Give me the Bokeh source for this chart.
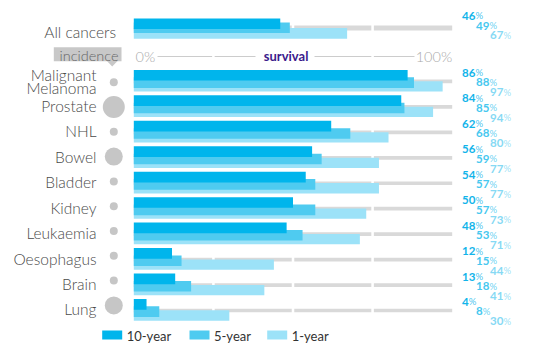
from bokeh.plotting import figure
from bokeh.models import Range1d, ColumnDataSource
from bokeh.core.properties import value
from bokeh.embed import file_html
from bokeh.resources import INLINE

# ---------------- data ----------------
categories = ["Malignant Melanoma", "Prostate", "NHL", "Bowel", "Bladder",
              "Kidney", "Leukaemia", "Oesophagus", "Brain", "Lung"]
ten_year = [86, 84, 62, 56, 54, 50, 48, 12, 13, 4]
five_year = [88, 85, 68, 59, 57, 57, 53, 15, 18, 8]
one_year = [97, 94, 80, 77, 77, 73, 71, 44, 41, 30]
incidence_size = [8, 22, 8, 18, 8, 8, 8, 8, 8, 18]
all_label = "All cancers"
all_values = [46, 49, 67]          # 10-year, 5-year, 1-year
axis_labels = ["0%", "survival", "100%"]
legend_labels = ["10-year", "5-year", "1-year"]

# ---------------- styling ----------------
C10, C5, C1 = "#00b5ec", "#4fcbf0", "#9ce2f8"
LC10, LC5, LC1 = "#12b4ea", "#47c8ef", "#86d9f4"
TRACK = "#d9d9d9"
FONT = value("Lato")
LIGHT = value("'Lato Light', Lato")

W, H = 524, 347
OX, OY = 0, 0
X0, PX = 133.3, 3.184


def px(xp):
    return (xp - X0) / PX


p = figure(width=W, height=H, x_range=Range1d(px(OX), px(OX + W)),
           y_range=Range1d(OY + H, OY), output_backend="svg",
           toolbar_location=None, min_border=0)
p.axis.visible = False
p.grid.visible = False
p.outline_line_color = None
p.background_fill_color = "white"

n = len(categories)
T = [69.4 + 25.45 * i for i in range(n)]
TA = 18.0

# ---------------- tracks ----------------
tl, tr, tt, tb = [], [], [], []
for t in T:
    for k in range(4):
        tl.append(0 if k == 0 else 25 * k + 0.4)
        tr.append(100 if k == 3 else 25 * (k + 1) - 0.4)
        tt.append(t + 9.7)
        tb.append(t + 13.4)
for k in range(4):
    tl.append(0 if k == 0 else 25 * k + 0.4)
    tr.append(100 if k == 3 else 25 * (k + 1) - 0.4)
    tt.append(TA + 7.0)
    tb.append(TA + 12.0)
p.quad(left=tl, right=tr, top=tt, bottom=tb, fill_color=TRACK, line_color=None)

# ---------------- bars ----------------
src = ColumnDataSource(dict(
    ten=ten_year, five=five_year, one=one_year,
    t10=[t for t in T], b10=[t + 10.7 for t in T],
    t5=[t + 7.4 for t in T], b5=[t + 18.0 for t in T],
    t1=[t + 11.4 for t in T], b1=[t + 21.7 for t in T],
))
p.quad(left=0, right="one", top="t1", bottom="b1", source=src, fill_color=C1, line_color=None)
p.quad(left=0, right="five", top="t5", bottom="b5", source=src, fill_color=C5, line_color=None)
p.quad(left=0, right="ten", top="t10", bottom="b10", source=src, fill_color=C10, line_color=None)

# all cancers bars
p.quad(left=[0], right=[all_values[2]], top=[TA + 9.5], bottom=[TA + 20.3], fill_color=C1, line_color=None)
p.quad(left=[0], right=[all_values[1]], top=[TA + 4.0], bottom=[TA + 14.5], fill_color=C5, line_color=None)
p.quad(left=[0], right=[all_values[0]], top=[TA], bottom=[TA + 10.5], fill_color=C10, line_color=None)

# ---------------- category labels ----------------
lab_x, lab_y, lab_t = [], [], []
for i, c in enumerate(categories):
    if c == "Malignant Melanoma":
        lab_x += [px(96), px(96)]
        lab_y += [T[i] + 5.4, T[i] + 17.6]
        lab_t += ["Malignant", "Melanoma"]
    else:
        lab_x.append(px(96))
        lab_y.append(T[i] + 10.5)
        lab_t.append(c)
p.text(x=lab_x, y=lab_y, text=lab_t, text_font=LIGHT, text_font_size=value("15.5px"),
       text_align="right", text_baseline="middle", text_color="#4a4a4a")
p.text(x=[px(115.5)], y=[31], text=[all_label], text_font=LIGHT,
       text_font_size=value("15.5px"), text_align="right", text_baseline="middle",
       text_color="#4a4a4a")

# ---------------- incidence circles ----------------
p.scatter(x=[px(113.3)] * n, y=[81.7 + 24.8 * i for i in range(n)], size=incidence_size,
          fill_color="#c6c6c6", line_color=None)

# incidence tag
p.quad(left=[px(53.3)], right=[px(121)], top=[46.7], bottom=[60.7],
       fill_color="#c8c8c8", line_color=None)
p.patch(x=[px(106.4), px(117.0), px(111.7)], y=[60.6, 60.6, 66.0],
        fill_color="#c8c8c8", line_color=None)
p.text(x=[px(88.5)], y=[54.5], text=["incidence"], text_font=LIGHT,
       text_font_size=value("14.5px"), text_align="center", text_baseline="middle",
       text_color="#666666")

# ---------------- survival axis row ----------------
p.segment(x0=[px(157), 25.4, px(314), 75.4], x1=[24.6, px(255), 74.6, px(414)],
          y0=[56] * 4, y1=[56] * 4, line_color="#cccccc", line_width=1)
p.text(x=[px(135)], y=[55.5], text=[axis_labels[0]], text_font=LIGHT,
       text_font_size=value("14.5px"), text_align="left", text_baseline="middle",
       text_color="#aaaaaa")
p.text(x=[px(285.6)], y=[55.5], text=[axis_labels[1]], text_font=FONT,
       text_font_size=value("13px"), text_font_style="bold", text_align="center",
       text_baseline="middle", text_color="#3b1a8c")
p.text(x=[px(451.7)], y=[55.5], text=[axis_labels[2]], text_font=LIGHT,
       text_font_size=value("14.5px"), text_align="right", text_baseline="middle",
       text_color="#aaaaaa")

# ---------------- value labels ----------------
cols = [LC10, LC5, LC1]
xs = [461.5, 475.5, 489.5]
nx, ny, nt, nc, qx = [], [], [], [], []
offs_rows = [3.0, 12.5, 22.5]
offs_all = [-3.0, 7.0, 16.7]
for i in range(n):
    for j, v in enumerate([ten_year[i], five_year[i], one_year[i]]):
        nx.append(px(xs[j])); ny.append(T[i] + offs_rows[j]); nt.append(str(v)); nc.append(cols[j])
        qx.append(px(xs[j] + 6.6 * len(str(v)) + 0.2))
for j, v in enumerate(all_values):
    nx.append(px(xs[j])); ny.append(TA + offs_all[j]); nt.append(str(v)); nc.append(cols[j])
    qx.append(px(xs[j] + 6.6 * len(str(v)) + 0.2))
lsrc = ColumnDataSource(dict(x=nx, y=ny, t=nt, c=nc, qx=qx, q=["%"] * len(nt)))
p.text(x="x", y="y", text="t", source=lsrc, text_color="c", text_font=FONT,
       text_font_size=value("11.5px"), text_font_style="bold", text_align="left",
       text_baseline="middle")
p.text(x="qx", y="y", text="q", source=lsrc, text_color="c", text_alpha=0.8,
       text_font=FONT, text_font_size=value("9.5px"), text_align="left",
       text_baseline="middle")

# ---------------- legend ----------------
lx = [101.7, 189.0, 266.7]
p.quad(left=[px(v) for v in lx], right=[px(v + 20) for v in lx], top=[330] * 3,
       bottom=[339] * 3, fill_color=[C10, C5, C1], line_color=None)
p.text(x=[px(v + 24.5) for v in lx], y=[335] * 3, text=legend_labels, text_font=FONT,
       text_font_size=value("13px"), text_align="left", text_baseline="middle",
       text_color="#333333")

open("out.html", "w").write(file_html(p, INLINE))
